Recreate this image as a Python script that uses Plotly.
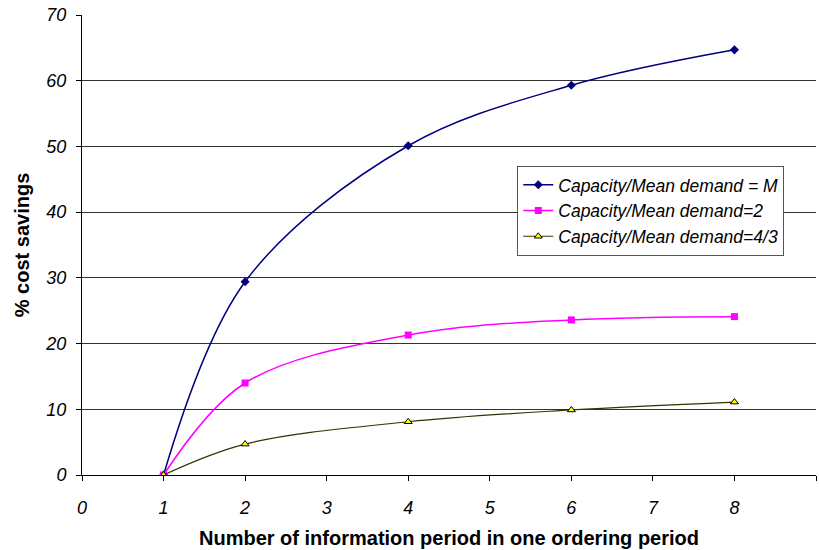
import plotly.graph_objects as go

# Information periods per ordering period
periods = [1, 2, 4, 6, 8]

# % cost savings for each capacity / mean demand ratio
savings_m = [0, 29.4, 50.1, 59.3, 64.7]
savings_2 = [0, 14.0, 21.3, 23.6, 24.1]
savings_43 = [0, 4.7, 8.1, 9.9, 11.1]

series_names = [
    "Capacity/Mean demand = M",
    "Capacity/Mean demand=2",
    "Capacity/Mean demand=4/3",
]

font_family = "Arial, Liberation Sans, sans-serif"

fig = go.Figure()
fig.add_trace(go.Scatter(
    x=periods, y=savings_m, name=series_names[0], mode="lines+markers",
    line=dict(color="#000080", width=1.5, shape="spline", smoothing=1.0),
    marker=dict(symbol="diamond", size=7, color="#000080"),
))
fig.add_trace(go.Scatter(
    x=periods, y=savings_2, name=series_names[1], mode="lines+markers",
    line=dict(color="#FF00FF", width=1.5, shape="spline", smoothing=1.0),
    marker=dict(symbol="square", size=7, color="#FF00FF"),
))
fig.add_trace(go.Scatter(
    x=periods, y=savings_43, name=series_names[2], mode="lines+markers",
    line=dict(color="#333300", width=1.2, shape="spline", smoothing=1.0),
    marker=dict(symbol="triangle-up", size=7, color="#FFFF00",
                line=dict(color="#000000", width=1)),
))

fig.update_layout(
    width=819, height=550,
    margin=dict(l=82, r=3, t=15, b=75),
    paper_bgcolor="white", plot_bgcolor="white",
    font=dict(family=font_family, color="black"),
    showlegend=True,
    legend=dict(
        x=0.593, y=0.672, xanchor="left", yanchor="top",
        bgcolor="white", bordercolor="#555555", borderwidth=1,
        font=dict(family=font_family, size=17.5, style="italic"),
        tracegroupgap=0, itemwidth=30,
    ),
    xaxis=dict(
        range=[0, 9], dtick=1, tick0=0,
        showgrid=False, zeroline=False,
        showline=True, linecolor="black", linewidth=1,
        ticks="outside", ticklen=5, tickcolor="black",
        ticklabelstandoff=11,
        tickfont=dict(size=18, style="italic"),
        title=dict(text="<b>Number of information period in one ordering period</b>",
                   font=dict(size=20), standoff=14),
    ),
    yaxis=dict(
        range=[0, 70], dtick=10, tick0=0,
        showgrid=True, gridcolor="#333333", gridwidth=1,
        zeroline=False,
        showline=True, linecolor="black", linewidth=1,
        ticks="outside", ticklen=5, tickcolor="black",
        ticklabelstandoff=6,
        tickfont=dict(size=18, style="italic"),
        title=dict(text="<b>% cost savings</b>", font=dict(size=20), standoff=10),
    ),
)

fig.write_html("out.html")
